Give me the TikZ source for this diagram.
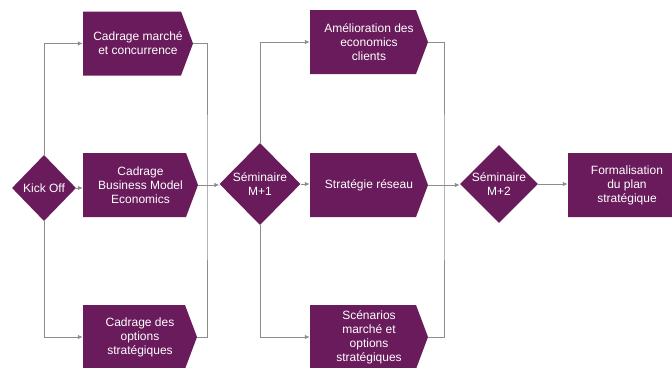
\documentclass[tikz,border=0pt]{standalone}
\usepackage{fontspec}
\setmainfont{Liberation Sans}
\usetikzlibrary{shapes.geometric,arrows.meta}
\definecolor{plum}{RGB}{105,27,92}
\definecolor{wire}{RGB}{140,140,140}
\tikzset{
  lbl/.style={text=white, align=center, font=\fontsize{12}{14}\selectfont, inner sep=0pt},
  stepbox/.style={lbl, rectangle, minimum height=64pt, minimum width=#1,
    path picture={\fill[plum] (path picture bounding box.north west)
      -- ([xshift=-12pt]path picture bounding box.north east)
      -- (path picture bounding box.east)
      -- ([xshift=-12pt]path picture bounding box.south east)
      -- (path picture bounding box.south west) -- cycle;}},
  gate/.style={lbl, diamond, fill=plum, aspect=1},
  link/.style={draw=wire, line width=0.9pt},
  arr/.style={link, -{Latex[length=5pt,width=4.5pt]}}
}
\begin{document}
\begin{tikzpicture}[x=1pt,y=-1pt]
\useasboundingbox (0,0) rectangle (672,367);
\clip (0,0) rectangle (672,367);
% nodes
\node[gate, minimum width=64pt, minimum height=66pt] (kick) at (44,188) {Kick Off};
\node[stepbox=110pt] (b1) at (138,43.5) {Cadrage marché\\et concurrence};
\node[stepbox=115pt] (b2) at (140.5,185) {Cadrage\\Business Model\\Economics};
\node[stepbox=114pt] (b3) at (140,337) {Cadrage des\\options\\stratégiques};
\node[gate, minimum width=81pt, minimum height=82pt] (s1) at (260,184) {Séminaire\\M+1};
\node[stepbox=118pt] (a1) at (369,42) {Amélioration des\\economics\\clients};
\node[stepbox=118pt] (a2) at (369,185) {Stratégie réseau};
\node[stepbox=118pt] (a3) at (369,337) {Scénarios\\marché et\\options\\stratégiques};
\node[gate, minimum width=78pt, minimum height=78pt] (s2) at (499,184) {Séminaire\\M+2};
\node[stepbox=118pt] (f) at (627,185) {Formalisation\\du plan\\stratégique};
\coordinate (bus1) at (207,185);
\coordinate (bus2) at (444,185);
% connectors
\draw[arr] (kick.north) |- (b1.west);
\draw[arr] (kick.south) |- (b3.west);
\draw[arr] (kick.east) -- (kick.east -| b2.west);
\draw[link] (b1.east) -| (bus1) |- (b3.east);
\draw[link] (b2.east) -- (bus1);
\draw[arr] (bus1) -- (bus1 -| s1.west);
\draw[arr] (s1.north) |- (a1.west);
\draw[arr] (s1.south) |- (a3.west);
\draw[arr] (s1.east) -- (s1.east -| a2.west);
\draw[link] (a1.east) -| (bus2) |- (a3.east);
\draw[link] (a2.east) -- (bus2);
\draw[arr] (bus2) -- (bus2 -| s2.west);
\draw[arr] (s2.east) -- (s2.east -| f.west);
\end{tikzpicture}
\end{document}
